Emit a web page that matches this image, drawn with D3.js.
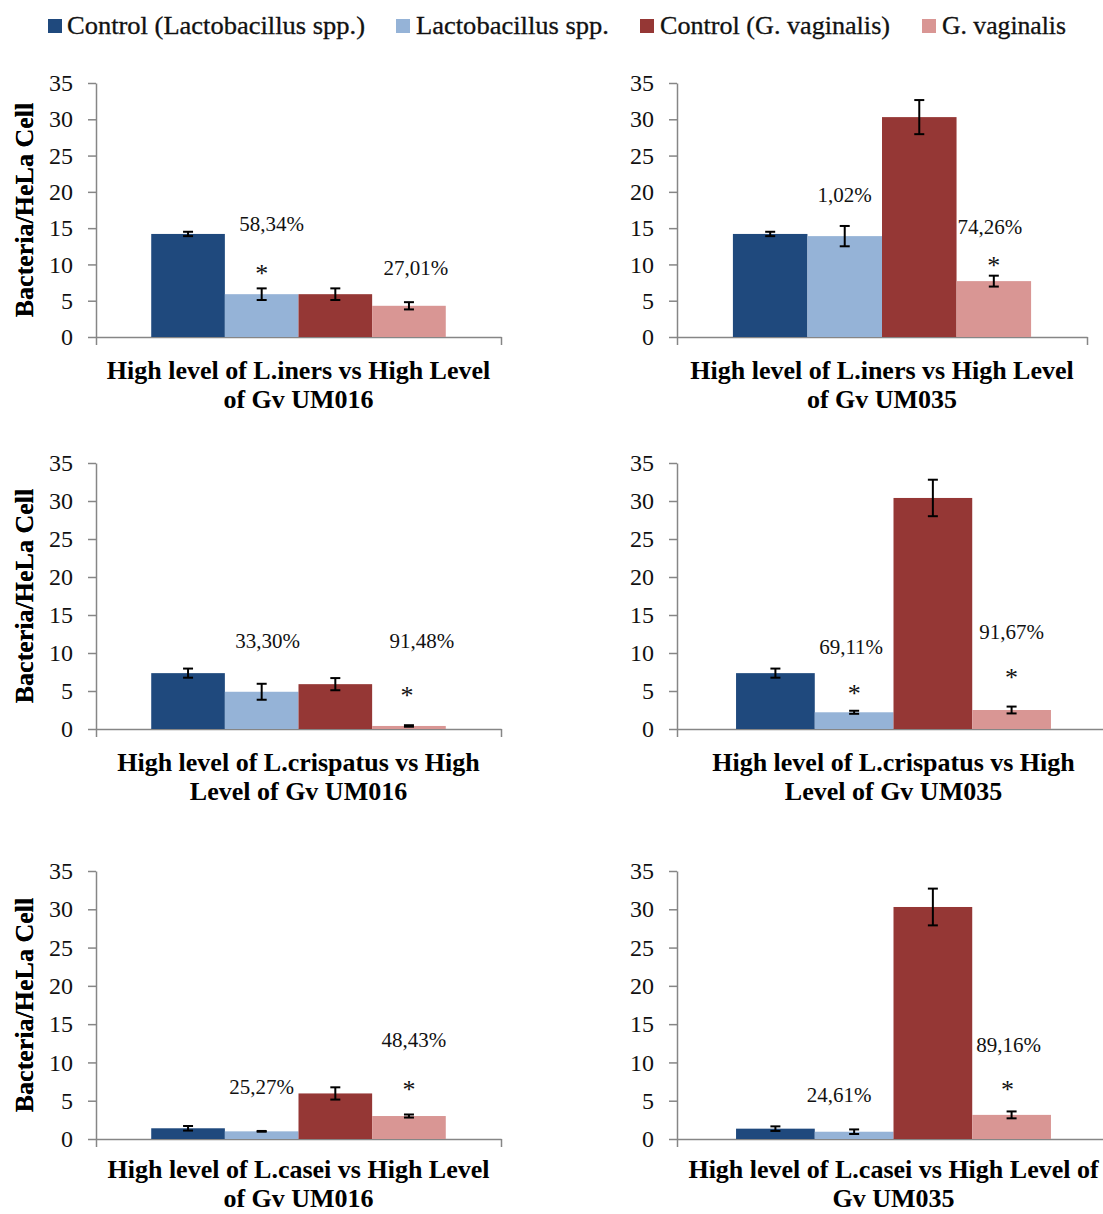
<!DOCTYPE html>
<html>
<head>
<meta charset="utf-8">
<script src="https://cdn.jsdelivr.net/npm/d3@7"></script>
<style>
  html, body { margin: 0; padding: 0; background: #fff; }
  svg { display: block; }
  svg text { font-family: "Liberation Serif", "Times New Roman", serif; }
</style>
</head>
<body>
<svg id="chart" width="1103" height="1214"></svg>
<script>
// Series shown in every panel, in bar order
const series = ["Control (Lactobacillus spp.)", "Lactobacillus spp.", "Control (G. vaginalis)", "G. vaginalis"];
const seriesColors = ["#1F497D", "#95B3D7", "#953735", "#D99694"];
const yTicks = [0, 5, 10, 15, 20, 25, 30, 35];
const yTitle = "Bacteria/HeLa Cell";

// Panel titles (two lines each)
const titleLinersUM016 = ["High level of L.iners vs High Level", "of Gv UM016"];
const titleLinersUM035 = ["High level of L.iners vs High Level", "of Gv UM035"];
const titleCrispUM016 = ["High level of L.crispatus vs High", "Level of Gv UM016"];
const titleCrispUM035 = ["High level of L.crispatus vs High", "Level of Gv UM035"];
const titleCaseiUM016 = ["High level of L.casei vs High Level", "of Gv UM016"];
const titleCaseiUM035 = ["High level of L.casei vs High Level of", "Gv UM035"];

// Mean bacteria per HeLa cell and error (±) for each panel
const linersUM016 = [14.2, 5.9, 5.9, 4.3];
const linersUM016Err = [0.3, 0.8, 0.8, 0.5];
const linersUM035 = [14.2, 13.9, 30.3, 7.7];
const linersUM035Err = [0.3, 1.4, 2.35, 0.75];
const crispUM016 = [7.35, 4.9, 5.9, 0.4];
const crispUM016Err = [0.6, 1.05, 0.8, 0.1];
const crispUM035 = [7.35, 2.2, 30.4, 2.5];
const crispUM035Err = [0.6, 0.2, 2.4, 0.45];
const caseiUM016 = [1.4, 1.0, 5.95, 3.0];
const caseiUM016Err = [0.3, 0.05, 0.8, 0.2];
const caseiUM035 = [1.35, 0.95, 30.3, 3.15];
const caseiUM035Err = [0.3, 0.3, 2.4, 0.45];

// Reduction percentages and significance marks: bar index, text, height (in y units)
const linersUM016Notes = [[1, "58,34%", 15.6], [1, "*", 9.5], [3, "27,01%", 9.5]];
const linersUM035Notes = [[1, "1,02%", 19.6], [3, "74,26%", 15.2], [3, "*", 10.6]];
const crispUM016Notes = [[1, "33,30%", 11.6], [3, "91,48%", 11.6], [3, "*", 5.1]];
const crispUM035Notes = [[1, "69,11%", 10.85], [1, "*", 5.4], [3, "91,67%", 12.7], [3, "*", 7.55]];
const caseiUM016Notes = [[1, "25,27%", 6.8], [3, "48,43%", 12.9], [3, "*", 7.15]];
const caseiUM035Notes = [[1, "24,61%", 5.8], [3, "89,16%", 12.3], [3, "*", 7.2]];

const panels = [
  { title: titleLinersUM016, values: linersUM016, errors: linersUM016Err, notes: linersUM016Notes },
  { title: titleLinersUM035, values: linersUM035, errors: linersUM035Err, notes: linersUM035Notes },
  { title: titleCrispUM016, values: crispUM016, errors: crispUM016Err, notes: crispUM016Notes },
  { title: titleCrispUM035, values: crispUM035, errors: crispUM035Err, notes: crispUM035Notes },
  { title: titleCaseiUM016, values: caseiUM016, errors: caseiUM016Err, notes: caseiUM016Notes },
  { title: titleCaseiUM035, values: caseiUM035, errors: caseiUM035Err, notes: caseiUM035Notes }
];

// Plot frames: left edge, width, top (35) and baseline (0) in pixels; small label nudges
const frames = [
  { x: 96,  w: 405, top: 83,  bottom: 337, nudge: { "58,34%": 10, "27,01%": 7 } },
  { x: 677, w: 410, top: 83,  bottom: 337, nudge: { "74,26%": -4 } },
  { x: 96,  w: 405, top: 463, bottom: 729, nudge: { "33,30%": 6, "91,48%": 13, "*": -2 } },
  { x: 677, w: 433, top: 463, bottom: 729, nudge: { "69,11%": -3 } },
  { x: 96,  w: 405, top: 871, bottom: 1139, nudge: { "48,43%": 5 } },
  { x: 677, w: 433, top: 871, bottom: 1139, nudge: { "24,61%": -15, "89,16%": -3, "*": -4 } }
];

const width = 1103, height = 1214;
const serif = "Liberation Serif, Times New Roman, serif";
const axisGray = "#868686";
const svg = d3.select("#chart");

// Legend
const legendItems = [
  { sx: 48, tx: 67, len: 298 },
  { sx: 396, tx: 416, len: 193 },
  { sx: 640, tx: 660, len: 230 },
  { sx: 922, tx: 942, len: 124 }
];
const legend = svg.append("g");
series.forEach((name, i) => {
  const it = legendItems[i];
  legend.append("rect").attr("x", it.sx).attr("y", 19).attr("width", 14).attr("height", 14)
    .attr("fill", seriesColors[i]);
  legend.append("text").attr("x", it.tx).attr("y", 34)
    .attr("font-family", serif).attr("font-size", 25).attr("fill", "#111")
    .attr("stroke", "#111").attr("stroke-width", 0.3)
    .attr("textLength", it.len).attr("lengthAdjust", "spacingAndGlyphs")
    .text(name);
});

panels.forEach((p, k) => {
  const f = frames[k];
  const g = svg.append("g").attr("transform", `translate(${f.x},0)`);

  const y = d3.scaleLinear().domain([0, 35]).range([f.bottom, f.top]);
  const x = d3.scaleBand().domain(d3.range(series.length)).range([0, f.w])
    .paddingInner(0).paddingOuter(0.75);

  // y axis
  const yAxis = g.append("g").call(
    d3.axisLeft(y).tickValues(yTicks).tickSize(8).tickSizeOuter(0).tickPadding(15)
  ).attr("font-family", serif);
  yAxis.select(".domain").attr("stroke", axisGray).attr("stroke-width", 1.5);
  yAxis.selectAll(".tick line").attr("stroke", axisGray).attr("stroke-width", 1.5);
  yAxis.selectAll(".tick text").attr("font-size", 24).attr("fill", "#111")
    .attr("font-family", serif);

  // x axis: baseline with end ticks only
  const xAxis = g.append("g").attr("transform", `translate(0,${y(0)})`).call(
    d3.axisBottom(d3.scaleLinear().range([0, f.w])).tickValues([0, 1]).tickFormat("").tickSize(8).tickSizeOuter(0)
  );
  xAxis.select(".domain").attr("stroke", axisGray).attr("stroke-width", 1.5);
  xAxis.selectAll(".tick line").attr("stroke", axisGray).attr("stroke-width", 1.5);

  // bars
  g.selectAll("rect.bar").data(p.values).join("rect").attr("class", "bar")
    .attr("x", (d, i) => x(i)).attr("width", x.bandwidth())
    .attr("y", d => y(d)).attr("height", d => y(0) - y(d))
    .attr("fill", (d, i) => seriesColors[i]);

  // error bars
  const eb = g.append("g").attr("stroke", "#000").attr("stroke-width", 2);
  p.values.forEach((v, i) => {
    const cx = x(i) + x.bandwidth() / 2;
    const hi = y(v + p.errors[i]), lo = y(Math.max(0, v - p.errors[i]));
    eb.append("line").attr("x1", cx).attr("x2", cx).attr("y1", hi).attr("y2", lo);
    eb.append("line").attr("x1", cx - 5).attr("x2", cx + 5).attr("y1", hi).attr("y2", hi);
    eb.append("line").attr("x1", cx - 5).attr("x2", cx + 5).attr("y1", lo).attr("y2", lo);
  });

  // annotations
  p.notes.forEach(([i, text, at]) => {
    const star = text === "*";
    const cx = x(i) + x.bandwidth() / 2 + (f.nudge[text] || 0);
    g.append("text").attr("x", cx).attr("y", y(at) + (star ? 14 : 7))
      .attr("text-anchor", "middle").attr("font-family", serif)
      .attr("font-size", star ? 26 : 21).attr("fill", "#111")
      .text(text);
  });

  // y axis title
  const cy = (f.top + f.bottom) / 2;
  g.append("text").attr("transform", `translate(${-(f.x - 24)},${cy}) rotate(-90)`)
    .attr("text-anchor", "middle").attr("dominant-baseline", "central")
    .attr("font-family", serif).attr("font-size", 26).attr("font-weight", "bold").attr("fill", "#000")
    .text(yTitle);

  // panel title, kept clear of the bottom edge
  const lineGap = 29;
  const firstBase = Math.min(f.bottom + 42, height - 7 - lineGap * (p.title.length - 1));
  p.title.forEach((line, j) => {
    g.append("text").attr("x", f.w / 2).attr("y", firstBase + j * lineGap)
      .attr("text-anchor", "middle").attr("font-family", serif)
      .attr("font-size", 26).attr("font-weight", "bold")
      .attr("fill", "#000").text(line);
  });
});
</script>
</body>
</html>
